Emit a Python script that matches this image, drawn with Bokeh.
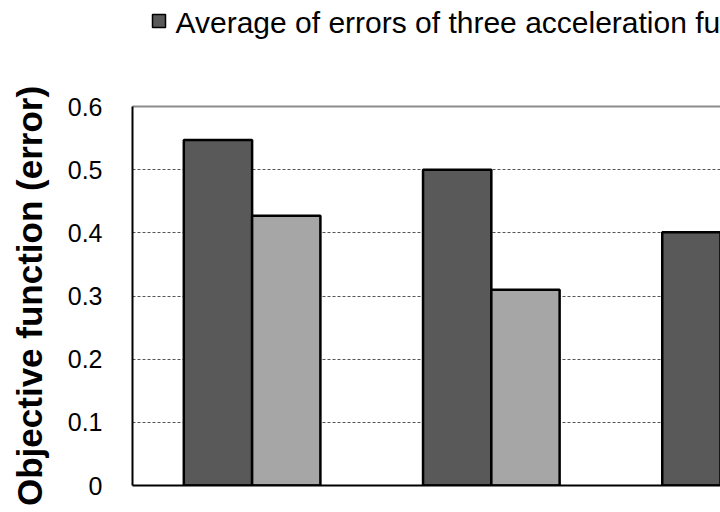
from bokeh.plotting import figure
from bokeh.layouts import column
from bokeh.models import ColumnDataSource, FixedTicker, LinearAxis, Range1d
from bokeh.core.properties import value
from bokeh.embed import file_html
from bokeh.resources import INLINE

# ---- data ----
groups = ["Group 1", "Group 2", "Group 3"]
avg_errors = [0.547, 0.500, 0.401]          # dark bars
second_series = [0.427, 0.310]              # light bars (third not visible)
legend_label = "Average of errors of three acceleration functions"
y_ticks = [0, 0.1, 0.2, 0.3, 0.4, 0.5, 0.6]
y_tick_labels = ["0", "0.1", "0.2", "0.3", "0.4", "0.5", "0.6"]

BAR_W = 0.2855
FONT = "Liberation Sans"
DARK = "#595959"
LIGHT = "#a6a6a6"
W = 720
TOP_H = 60
LEFT = 132

# ---- legend strip (separate figure above the chart; its frame aligns with the chart's) ----
top = figure(width=W, height=TOP_H, output_backend="svg", toolbar_location=None,
             x_range=Range1d(LEFT, W), y_range=Range1d(0, TOP_H),
             min_border_left=LEFT, min_border_right=0, min_border_top=0, min_border_bottom=0,
             x_axis_location=None, y_axis_location=None)
top.outline_line_color = None
top.grid.visible = False
top.quad(left=[152], right=[165], top=[TOP_H - 14], bottom=[TOP_H - 27],
         fill_color=DARK, line_color="black", line_width=1.5)
top.text(x=[175], y=[TOP_H - 21.5], text=[legend_label], text_font=value(FONT),
         text_font_size="30px", text_color="black", text_align="left",
         text_baseline="middle")

# ---- main chart ----
p = figure(width=W, height=452, output_backend="svg", toolbar_location=None,
           x_range=Range1d(0, 2.458), y_range=Range1d(0, 0.6),
           min_border_left=LEFT, min_border_top=46, min_border_bottom=27,
           min_border_right=0, x_axis_location=None, y_axis_location=None)
p.outline_line_color = None
p.background_fill_color = "white"
p.border_fill_color = "white"

dark_src = ColumnDataSource(dict(x=[i + 0.5 - BAR_W / 2 for i in range(len(groups))],
                                 top=avg_errors, name=groups))
light_src = ColumnDataSource(dict(x=[i + 0.5 + BAR_W / 2 for i in range(len(second_series))],
                                  top=second_series, name=groups[:len(second_series)]))

p.vbar(x="x", top="top", width=BAR_W, source=dark_src,
       fill_color=DARK, line_color="black", line_width=2.5)
p.vbar(x="x", top="top", width=BAR_W, source=light_src,
       fill_color=LIGHT, line_color="black", line_width=2.5)

yaxis = LinearAxis(ticker=FixedTicker(ticks=y_ticks),
                   major_label_overrides={t: l for t, l in zip(y_ticks, y_tick_labels)})
yaxis.axis_line_color = "black"
yaxis.axis_line_width = 2
yaxis.major_tick_line_color = None
yaxis.minor_tick_line_color = None
yaxis.major_tick_out = 0
yaxis.major_tick_in = 0
yaxis.major_label_standoff = 30
yaxis.major_label_text_font = FONT
yaxis.major_label_text_font_size = "25px"
yaxis.major_label_text_color = "black"
yaxis.axis_label = "Objective function (error)"
yaxis.axis_label_text_font = FONT
yaxis.axis_label_text_font_style = "bold"
yaxis.axis_label_text_font_size = "35px"
yaxis.axis_label_text_color = "black"
yaxis.axis_label_standoff = 16
p.add_layout(yaxis, "left")

xaxis = LinearAxis(ticker=FixedTicker(ticks=[]))
xaxis.axis_line_color = "black"
xaxis.axis_line_width = 2
xaxis.major_tick_line_color = None
xaxis.minor_tick_line_color = None
xaxis.major_label_text_font_size = "0px"
p.add_layout(xaxis, "below")

top_axis = LinearAxis(ticker=FixedTicker(ticks=[]))
top_axis.axis_line_color = "#8c8c8c"
top_axis.axis_line_width = 2
top_axis.major_tick_line_color = None
top_axis.minor_tick_line_color = None
top_axis.major_label_text_font_size = "0px"
p.add_layout(top_axis, "above")

p.xgrid.visible = False
p.ygrid.ticker = FixedTicker(ticks=y_ticks)
p.ygrid.grid_line_color = "#555555"
p.ygrid.grid_line_width = 1
p.ygrid.grid_line_dash = "3 2"

layout = column(top, p, spacing=0)
open("out.html", "w").write(file_html(layout, INLINE))
